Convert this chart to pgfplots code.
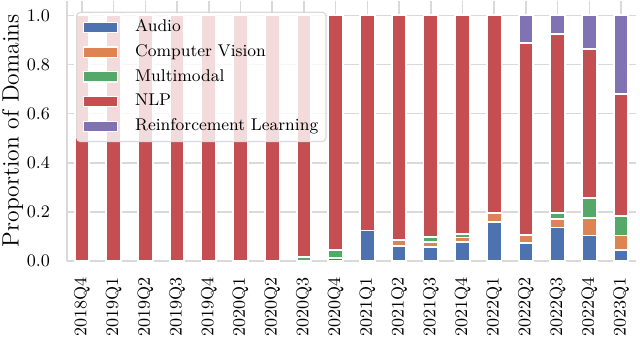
\documentclass[border=0pt]{standalone}
\usepackage{fontspec}
\usepackage{pgfplots}
\usepackage{pgfplotstable}
\pgfplotsset{compat=1.18}

\definecolor{cAudio}{HTML}{4C72B0}
\definecolor{cCV}{HTML}{DD8452}
\definecolor{cMM}{HTML}{55A868}
\definecolor{cNLP}{HTML}{C44E52}
\definecolor{cRL}{HTML}{8172B3}
\definecolor{gridgrey}{HTML}{D9D9D9}

% share of domains per quarter
\pgfplotstableread{
x  audio  cv     mm     nlp    rl
0  0      0      0      1.000  0
1  0      0      0      1.000  0
2  0      0      0      1.000  0
3  0      0      0      1.000  0
4  0      0      0      1.000  0
5  0      0      0      1.000  0
6  0      0      0      1.000  0
7  0      0      0.015  0.985  0
8  0.013  0      0.032  0.955  0
9  0.124  0      0      0.876  0
10 0.062  0.022  0      0.916  0
11 0.057  0.021  0.019  0.903  0
12 0.078  0.018  0.013  0.891  0
13 0.160  0.036  0      0.804  0
14 0.072  0.033  0      0.784  0.111
15 0.136  0.034  0.026  0.729  0.075
16 0.104  0.071  0.080  0.609  0.136
17 0.045  0.059  0.078  0.499  0.319
}\domains

\newcommand{\tickfont}{\fontsize{8.8bp}{10bp}\selectfont}
\newcommand{\legfont}{\fontsize{8.5bp}{10bp}\selectfont}

\begin{document}
\begin{tikzpicture}
\useasboundingbox (-33.5bp,-38bp) rectangle (286.5bp,130.5bp);
\begin{axis}[
  at={(0,0)}, anchor=south west,
  scale only axis, width=284.5bp, height=130.2bp,
  ybar stacked, bar width=0.46,
  xmin=-0.47, xmax=17.47, ymin=0, ymax=1.06,
  xtick={0,...,17},
  xticklabels={2018Q4,2019Q1,2019Q2,2019Q3,2019Q4,2020Q1,2020Q2,2020Q3,2020Q4,
    2021Q1,2021Q2,2021Q3,2021Q4,2022Q1,2022Q2,2022Q3,2022Q4,2023Q1},
  ytick={0,0.2,0.4,0.6,0.8,1.0},
  yticklabel style={/pgf/number format/fixed, /pgf/number format/fixed zerofill,
    /pgf/number format/precision=1, /pgf/number format/assume math mode=true,
    anchor=east, inner sep=0pt, font=\tickfont},
  xticklabel style={rotate=90, anchor=east, inner sep=0pt, font=\tickfont},
  xticklabel shift=7.9bp, yticklabel shift=8.3bp,
  major tick length=0pt,
  xmajorgrids, ymajorgrids,
  major grid style={gridgrey, line width=0.8bp},
  axis x line*=bottom, axis y line*=left,
  axis line style={gridgrey, line width=0.9bp, -},
  every axis y label/.style={at={(rel axis cs:0,0.5)}, xshift=-32.7bp,
    rotate=90, anchor=north, inner sep=0pt, font=\fontsize{11.8bp}{13bp}\selectfont},
  ylabel={Proportion of Domains},
  every axis plot/.append style={draw=white, line width=0.9bp},
  legend cell align=left,
  legend image code/.code={\draw[#1, draw=white, fill opacity=1, line width=0.6bp, sharp corners]
    (0bp,-2.5bp) rectangle (17.3bp,2.5bp);},
  legend style={at={(rel axis cs:0,1)}, anchor=north west, xshift=4.5bp, yshift=-5.5bp,
    fill=white, fill opacity=0.8, draw opacity=1, text opacity=1, draw=gridgrey,
    line width=0.6bp, rounded corners=2bp, inner xsep=3bp, inner ysep=2.5bp,
    font=\legfont, row sep=2.3bp,
    nodes={inner sep=0.9bp, text height=6.3bp, text depth=2bp},
    /tikz/every odd column/.append style={column sep=7.5bp}},
]
\addplot[fill=cAudio] table[x=x, y=audio] {\domains};
\addlegendentry{Audio}
\addplot[fill=cCV] table[x=x, y=cv] {\domains};
\addlegendentry{Computer Vision}
\addplot[fill=cMM] table[x=x, y=mm] {\domains};
\addlegendentry{Multimodal}
\addplot[fill=cNLP] table[x=x, y=nlp] {\domains};
\addlegendentry{NLP}
\addplot[fill=cRL] table[x=x, y=rl] {\domains};
\addlegendentry{Reinforcement Learning}
\end{axis}
\end{tikzpicture}
\end{document}
